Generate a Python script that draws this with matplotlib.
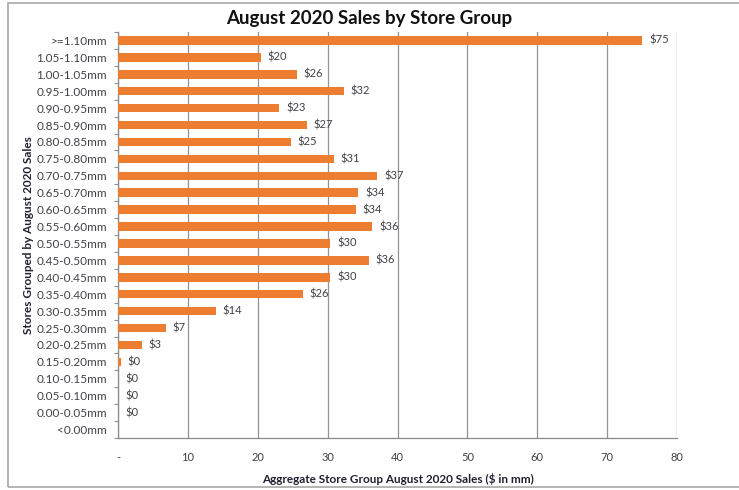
import matplotlib.pyplot as plt
from matplotlib.patches import Rectangle

plt.rcParams['font.family'] = ['Lato', 'DejaVu Sans']

# store groups, top to bottom
groups = [">=1.10mm", "1.05-1.10mm", "1.00-1.05mm", "0.95-1.00mm", "0.90-0.95mm",
          "0.85-0.90mm", "0.80-0.85mm", "0.75-0.80mm", "0.70-0.75mm", "0.65-0.70mm",
          "0.60-0.65mm", "0.55-0.60mm", "0.50-0.55mm", "0.45-0.50mm", "0.40-0.45mm",
          "0.35-0.40mm", "0.30-0.35mm", "0.25-0.30mm", "0.20-0.25mm", "0.15-0.20mm",
          "0.10-0.15mm", "0.05-0.10mm", "0.00-0.05mm", "<0.00mm"]
# aggregate sales in $mm (None = no stores in group)
sales = [75.0, 20.4, 25.6, 32.3, 23.1, 27.0, 24.7, 30.9, 37.1, 34.4,
         34.0, 36.4, 30.4, 35.9, 30.4, 26.4, 14.0, 6.8, 3.4, 0.4,
         0.0, 0.0, 0.0, None]
xticks = [0, 10, 20, 30, 40, 50, 60, 70, 80]
xticklabels = ["-", "10", "20", "30", "40", "50", "60", "70", "80"]

orange = "#ED7D31"
txt = "#404048"

fig = plt.figure(figsize=(7.39, 4.9), dpi=100)
ax = fig.add_axes([0.1597, 0.1061, 0.7565, 0.8286])

ypos = list(range(len(groups)))
vals = [v if v is not None else 0 for v in sales]
ax.barh(ypos, vals, height=0.5, color=orange, zorder=3)

for y, v in zip(ypos, sales):
    if v is None:
        continue
    ax.annotate("${:.0f}".format(v), xy=(v, y), xytext=(5, 0), textcoords="offset points",
                va="center", ha="left", fontsize=8, color=txt)

ax.set_ylim(len(groups) - 0.5, -0.5)
ax.set_yticks(ypos)
ax.set_yticklabels(groups, fontsize=8.5, color=txt)
ax.set_yticks([i - 0.5 for i in range(len(groups) + 1)], minor=True)
ax.tick_params(axis="y", which="major", length=0, pad=8)
ax.tick_params(axis="y", which="minor", length=3, color="#909090", width=0.8)

ax.set_xlim(0, 80)
ax.set_xticks(xticks)
ax.set_xticklabels(xticklabels, fontsize=8, color=txt)
ax.tick_params(axis="x", length=0, pad=10)
ax.grid(axis="x", color="#939393", linewidth=0.9, zorder=0)

for side in ["top", "right"]:
    ax.spines[side].set_visible(False)
for side in ["left", "bottom"]:
    ax.spines[side].set_color("#8a8a8a")
    ax.spines[side].set_linewidth(0.9)

ax.set_xlabel("Aggregate Store Group August 2020 Sales ($ in mm)", fontsize=8.5,
              fontweight="bold", color="#202030", labelpad=7)
ax.set_ylabel("Stores Grouped by August 2020 Sales", fontsize=8.5,
              fontweight="bold", color="#202030")
ax.yaxis.set_label_coords(-0.151, 0.5)

fig.text(0.5, 0.962, "August 2020 Sales by Store Group", ha="center", va="center",
         fontsize=13.5, fontweight="bold", color="#111111")

# chart frame
fig.patches.append(Rectangle((8 / 739, 3 / 490), 1.0, 484 / 490, transform=fig.transFigure,
                             fill=False, edgecolor="#a8a8a8", linewidth=1.2))

fig.savefig("out.png", dpi=100)
